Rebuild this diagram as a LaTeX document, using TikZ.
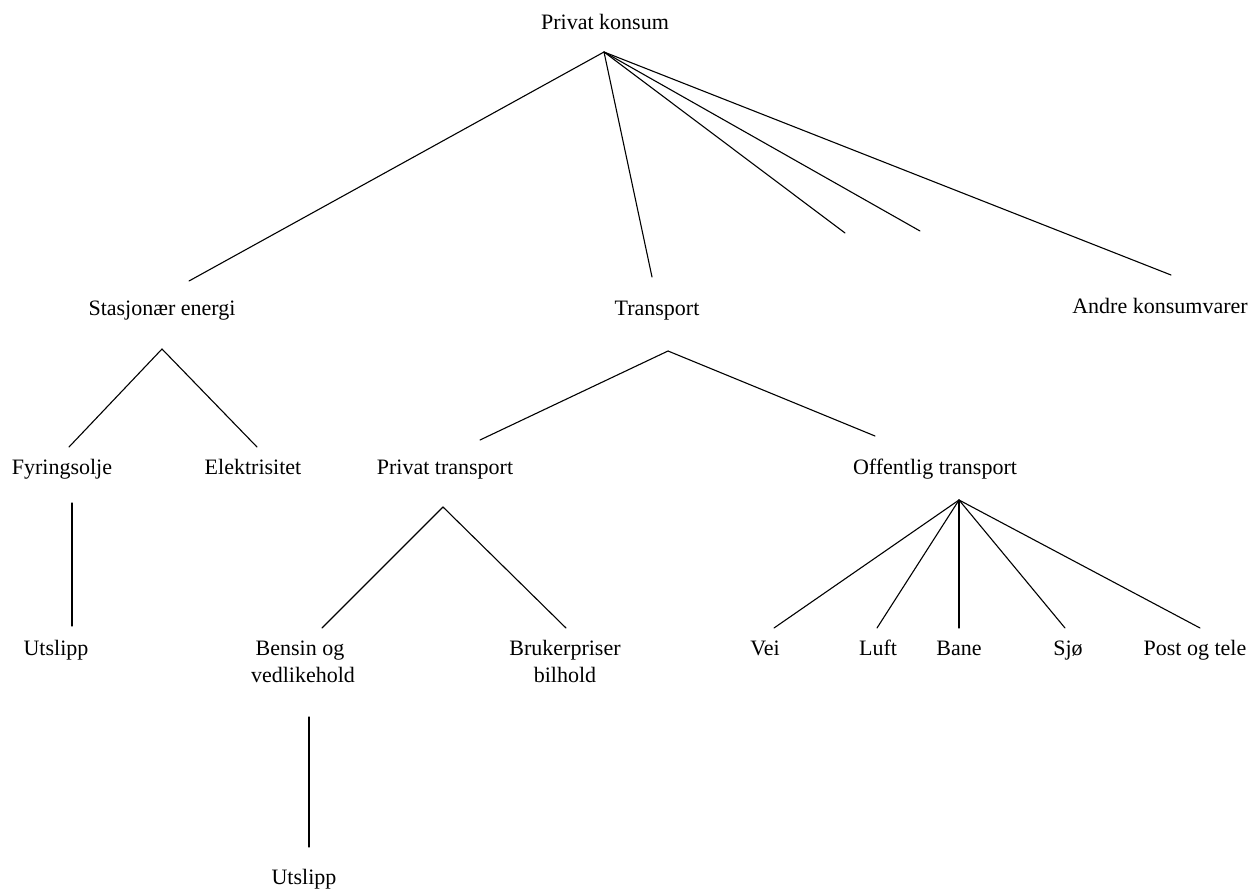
\documentclass[tikz,border=0pt]{standalone}
\usepackage{fontspec}
\setmainfont{Liberation Serif}
\begin{document}
\begin{tikzpicture}[x=1pt,y=-1pt,
  lbl/.style={inner sep=0pt, anchor=base, font=\fontsize{22}{27}\selectfont},
  edge/.style={line width=1.1pt, line cap=round}]
\useasboundingbox (0,0) rectangle (1249,888);
% labels
\node[lbl] (pk) at (605,30) {Privat konsum};
\node[lbl] (se) at (162,315) {Stasjonær energi};
\node[lbl] (tr) at (657,315) {Transport};
\node[lbl] (ak) at (1160,313) {Andre konsumvarer};
\node[lbl] (fy) at (62,474) {Fyringsolje};
\node[lbl] (el) at (253,474) {Elektrisitet};
\node[lbl] (pt) at (445,474) {Privat transport};
\node[lbl] (ot) at (935,474) {Offentlig transport};
\node[lbl] (u1) at (56,655) {Utslipp};
\node[lbl] (bv1) at (300,655) {Bensin og};
\node[lbl] (bv2) at (303,682) {vedlikehold};
\node[lbl] (bp1) at (565,655) {Brukerpriser};
\node[lbl] (bp2) at (565,682) {bilhold};
\node[lbl] (vei) at (765,655) {Vei};
\node[lbl] (luft) at (878,655) {Luft};
\node[lbl] (bane) at (959,655) {Bane};
\node[lbl] (sjo) at (1068,655) {Sjø};
\node[lbl] (pot) at (1195,655) {Post og tele};
\node[lbl] (u2) at (304,884) {Utslipp};
% connector end points
\coordinate (pkA) at (604,52);
\coordinate (seT) at (189,281);
\coordinate (trT) at (652,277);
\coordinate (x1) at (845,233);
\coordinate (x2) at (920,231);
\coordinate (akT) at (1171,275);
\coordinate (seA) at (162,349);
\coordinate (fyT) at (69,447);
\coordinate (elT) at (257,447);
\coordinate (fyB) at (72,503);
\coordinate (u1T) at (72,626);
\coordinate (trA) at (668,351);
\coordinate (ptT) at (480,440);
\coordinate (otT) at (875,436);
\coordinate (ptA) at (443,507);
\coordinate (bvT) at (322,628);
\coordinate (bpT) at (566,628);
\coordinate (bvB) at (309,717);
\coordinate (u2T) at (309,847);
\coordinate (otA) at (959,500);
\coordinate (veiT) at (774,628);
\coordinate (luftT) at (877,628);
\coordinate (baneT) at (959,628);
\coordinate (sjoT) at (1065,628);
\coordinate (potT) at (1200,628);
% connectors
\draw[edge] (pkA) -- (seT);
\draw[edge] (pkA) -- (trT);
\draw[edge] (pkA) -- (x1);
\draw[edge] (pkA) -- (x2);
\draw[edge] (pkA) -- (akT);
\draw[edge] (seA) -- (fyT);
\draw[edge] (seA) -- (elT);
\draw[edge] (fyB) -- (u1T);
\draw[edge] (trA) -- (ptT);
\draw[edge] (trA) -- (otT);
\draw[edge] (ptA) -- (bvT);
\draw[edge] (ptA) -- (bpT);
\draw[edge] (bvB) -- (u2T);
\draw[edge] (otA) -- (veiT);
\draw[edge] (otA) -- (luftT);
\draw[edge] (otA) -- (baneT);
\draw[edge] (otA) -- (sjoT);
\draw[edge] (otA) -- (potT);
\end{tikzpicture}
\end{document}
